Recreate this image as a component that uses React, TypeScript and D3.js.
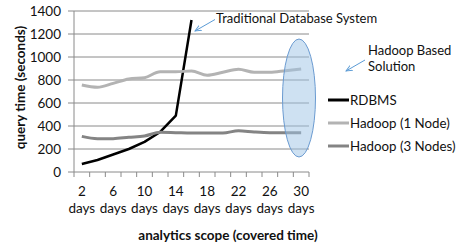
import React from "react";
import * as d3 from "d3";

const categories = ["2", "4", "6", "8", "10", "12", "14", "16", "18", "20", "22", "24", "26", "28", "30"];
const tickLabels = ["2", "6", "10", "14", "18", "22", "26", "30"];
const rdbms: (number | null)[] = [70, 104, 152, 200, 262, 348, 490, 1322, null, null, null, null, null, null, null];
const hadoop1 = [757, 737, 771, 809, 820, 872, 872, 878, 841, 867, 893, 867, 867, 881, 896];
const hadoop3 = [310, 290, 290, 302, 313, 345, 342, 339, 339, 339, 359, 348, 342, 342, 342];
const yTicks = [0, 200, 400, 600, 800, 1000, 1200, 1400];
const seriesNames = ["RDBMS", "Hadoop (1 Node)", "Hadoop (3 Nodes)"];

const FONT = "Lato, 'Open Sans', sans-serif";

export default function App() {
  const W = 457, H = 248;
  const x = d3.scaleBand<string>().domain(categories).range([74, 309]).padding(0);
  const y = d3.scaleLinear().domain([0, 1400]).range([172, 11]);
  const bw = x.bandwidth();
  const cx = (c: string) => (x(c) as number) + bw / 2;

  const mk = (vals: (number | null)[], curve: d3.CurveFactory) =>
    d3
      .line<number | null>()
      .defined((d) => d != null)
      .x((_, i) => cx(categories[i]))
      .y((d) => y(d as number))
      .curve(curve)(vals) as string;

  const series = [
    { name: seriesNames[0], vals: rdbms, color: "#000000", w: 2.5, curve: d3.curveLinear },
    { name: seriesNames[1], vals: hadoop1, color: "#b3b3b3", w: 3, curve: d3.curveMonotoneX },
    { name: seriesNames[2], vals: hadoop3, color: "#848484", w: 3, curve: d3.curveMonotoneX },
  ];

  const boundaries = [...categories.map((c) => x(c) as number), x.range()[1]];

  return (
    <svg width={W} height={H} style={{ position: "absolute", left: 0, top: 0, background: "#fff" }} fontFamily={FONT}>
      <defs>
        <marker id="arr" viewBox="0 0 10 10" refX="9" refY="5" markerWidth="7" markerHeight="7" orient="auto">
          <path d="M0,1 L9,5 L0,9" fill="none" stroke="#5b9bd5" strokeWidth="1.3" />
        </marker>
      </defs>
      {yTicks.map((t) => (
        <g key={t}>
          {t > 0 && <line x1={74} x2={309} y1={y(t)} y2={y(t)} stroke="#8a8a8a" strokeWidth={1} />}
          <line x1={68} x2={74} y1={y(t)} y2={y(t)} stroke="#8a8a8a" />
          <text x={61} y={y(t)} dy="0.36em" textAnchor="end" fontSize={13.5} fill="#111">
            {t}
          </text>
        </g>
      ))}
      <line x1={74} x2={74} y1={y(1400)} y2={y(0)} stroke="#8a8a8a" />
      <line x1={74} x2={309} y1={y(0)} y2={y(0)} stroke="#8a8a8a" />
      {boundaries.map((b, i) => (
        <line key={i} x1={b} x2={b} y1={y(0)} y2={y(0) + 5} stroke="#8a8a8a" />
      ))}
      {tickLabels.map((t) => (
        <text key={t} x={cx(t)} textAnchor="middle" fontSize={13.5} fill="#111">
          <tspan x={cx(t)} y={196}>{t}</tspan>
          <tspan x={cx(t)} y={213}>days</tspan>
        </text>
      ))}
      {series.map((s) => (
        <path key={s.name} d={mk(s.vals, s.curve)} fill="none" stroke={s.color} strokeWidth={s.w} strokeLinejoin="round" />
      ))}
      <ellipse cx={299} cy={98} rx={16.5} ry={59} fill="#9dc3e6" fillOpacity={0.5} stroke="#6b9bd1" strokeWidth={1} />
      <text x={216} y={23} fontSize={13} fill="#111">Traditional Database System</text>
      <line x1={215} y1={19.5} x2={195} y2={31} stroke="#5b9bd5" strokeWidth={1} markerEnd="url(#arr)" />
      <text x={368} y={55} fontSize={13} fill="#111">Hadoop Based</text>
      <text x={368} y={71} fontSize={13} fill="#111">Solution</text>
      <line x1={365} y1={60} x2={346} y2={71} stroke="#5b9bd5" strokeWidth={1} markerEnd="url(#arr)" />
      {series.map((s, i) => (
        <g key={s.name}>
          <line x1={328} x2={349} y1={100 + i * 23} y2={100 + i * 23} stroke={s.color} strokeWidth={3} />
          <text x={350} y={100 + i * 23} dy="0.36em" fontSize={13.3} fill="#111">
            {s.name}
          </text>
        </g>
      ))}
      <text transform={`translate(25,${(y(0) + y(1400)) / 2 - 4}) rotate(-90)`} textAnchor="middle" fontSize={13.5} fontWeight="bold" fill="#111">
        query time (seconds)
      </text>
      <text x={228} y={240} textAnchor="middle" fontSize={13.5} fontWeight="bold" fill="#111">
        analytics scope (covered time)
      </text>
    </svg>
  );
}
